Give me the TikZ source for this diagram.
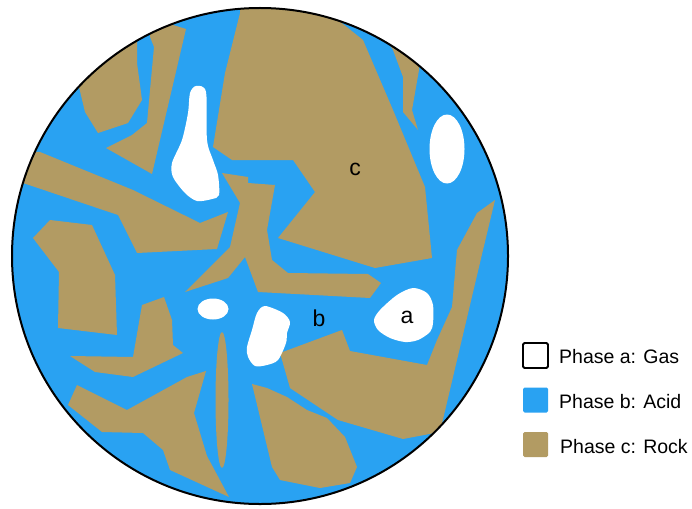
\documentclass[tikz,border=0pt]{standalone}
\usepackage{fontspec}
\setmainfont{Liberation Sans}
\definecolor{acidcol}{RGB}{41,162,242}
\definecolor{rockcol}{RGB}{178,155,99}
\begin{document}
\begin{tikzpicture}[x=1pt,y=-1pt,
  rockfill/.style={fill=rockcol},
  gasfill/.style={fill=white},
  lbl/.style={font=\fontsize{23}{23}\selectfont, anchor=base, inner sep=0pt},
  legtext/.style={font=\fontsize{19.5}{20}\selectfont, anchor=base west, inner sep=0pt},
  legbox/.style={minimum size=25pt, inner sep=0pt, rounded corners=1.5pt}]
\useasboundingbox (0,0) rectangle (692,508);
\coordinate (ctr) at (260,256);
% acid background of the sample
\fill[acidcol] (ctr) circle[radius=248pt];
\begin{scope}
  \clip (ctr) circle[radius=248pt];
  % rock grains
  \fill[rockfill] (40,50) -- (137,0) -- (137,63) -- (142,100) -- (128,123) -- (98,133) -- (85,112) -- (79,87) -- cycle;
  \fill[rockfill] (150,37) -- (154,47) -- (147,123) -- (132,135) -- (106,148) -- (152,174) -- (186,29) -- (170,24) -- (150,20) -- cycle;
  \fill[rockfill] (240,0) -- (333,0) -- (333,16) -- (363,40) -- (393,110) -- (425,187) -- (432,258) -- (375,268) -- (278,238) -- (315,192) -- (293,160) -- (232,160) -- (213,147) -- (225,73) -- (240,13) -- cycle;
  \fill[rockfill] (380,30) -- (420,50) -- (419,70) -- (412,110) -- (418,130) -- (403,112) -- (403,77) -- (393,50) -- cycle;
  \fill[rockfill] (40,152) -- (133,190) -- (200,223) -- (228,212) -- (217,249) -- (137,253) -- (118,215) -- (23,183) -- (0,185) -- (0,150) -- cycle;
  \fill[rockfill] (33,238) -- (50,220) -- (92,225) -- (115,275) -- (117,335) -- (58,328) -- (59,272) -- cycle;
  \fill[rockfill] (142,305) -- (164,297) -- (172,320) -- (173,345) -- (183,353) -- (133,377) -- (95,372) -- (70,356) -- (133,357) -- cycle;
  \fill[rockfill] (77,385) -- (127,410) -- (187,377) -- (206,371) -- (194,413) -- (207,456) -- (229,497) -- (170,470) -- (163,450) -- (143,433) -- (102,432) -- (68,405) -- cycle;
  \fill[rockfill] (252,384) -- (267,388) -- (287,397) -- (307,410) -- (327,418) -- (345,437) -- (357,467) -- (350,483) -- (320,488) -- (280,480) -- (272,467) -- cycle;
  \fill[rockfill] (280,353) -- (342,330) -- (350,351) -- (427,365) -- (437,340) -- (452,307) -- (457,250) -- (477,213) -- (495,200) -- (483,250) -- (440,432) -- (403,439) -- (338,420) -- (290,388) -- cycle;
  \fill[rockfill] (222,173) -- (248,177) -- (248,183) -- (275,185) -- (267,230) -- (272,260) -- (288,273) -- (368,274) -- (381,283) -- (370,298) -- (258,292) -- (245,257) -- (228,278) -- (185,292) -- (230,247) -- (240,203) -- cycle;
  \fill[rockfill] (222,400) ellipse[x radius=6.5pt, y radius=68pt];
  % gas bubbles
  \fill[gasfill] plot[smooth cycle, tension=0.5] coordinates {(196,86) (206,92) (207,140) (213,160) (218,175) (219,195) (212,199) (197,201) (185,193) (173,177) (172,163) (182,140) (188,113) (190,93)};
  \fill[gasfill] plot[smooth cycle, tension=0.5] coordinates {(265,306) (283,313) (290,322) (287,333) (286,343) (278,360) (267,365) (255,366) (248,357) (247,347) (252,330) (257,313)};
  \fill[gasfill] plot[smooth cycle, tension=0.5] coordinates {(413,288) (427,293) (433,305) (433,323) (430,332) (418,340) (405,342) (390,338) (378,330) (374,320) (380,310) (397,295)};
  \fill[gasfill] (213,309) ellipse[x radius=15.5pt, y radius=10.5pt];
  \fill[gasfill] (447,149) ellipse[x radius=17.5pt, y radius=34.5pt];
\end{scope}
\draw[line width=2pt] (ctr) circle[radius=248pt];
% phase labels
\node[lbl] (la) at (407,323) {a};
\node[lbl] (lb) at (319,326) {b};
\node[lbl] (lc) at (355,175) {c};
% legend
\node[legbox, draw=black, line width=1.8pt, fill=white] (ga) at (535.5,355.5) {};
\node[legbox, fill=acidcol] (ac) at (535.5,400) {};
\node[legbox, fill=rockcol] (ro) at (535.5,444.5) {};
\node[legtext] (tga) at (559,363) {Phase a: Gas};
\node[legtext] (tac) at (559,408) {Phase b: Acid};
\node[legtext] (tro) at (560,453) {Phase c: Rock};
\end{tikzpicture}
\end{document}
